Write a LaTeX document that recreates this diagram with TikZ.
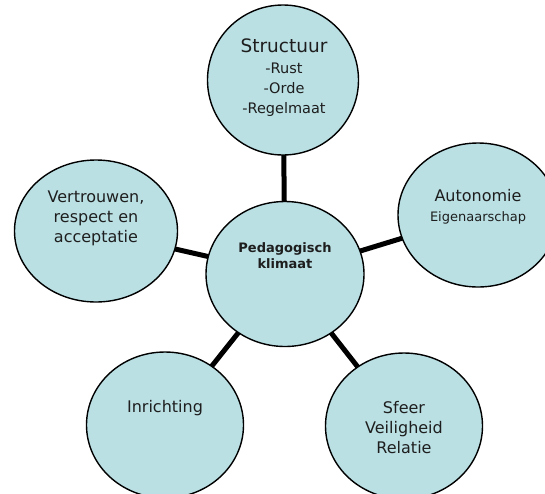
\documentclass[tikz,border=0pt]{standalone}
\usepackage{fontspec}
\setmainfont{DejaVu Sans}
\usetikzlibrary{shapes.geometric,backgrounds}
\definecolor{bubble}{RGB}{186,224,228}
\definecolor{ink}{RGB}{30,30,30}
\tikzset{
  bubble/.style={ellipse,draw=black,line width=1.4pt,fill=bubble,inner sep=0pt},
  txt/.style={align=center,text=ink,inner sep=0pt,font=\fontsize{16}{20}\selectfont},
  link/.style={line width=5pt,black}
}
\begin{document}
\begin{tikzpicture}[x=1pt,y=-1pt]
\useasboundingbox (0,0) rectangle (545,493);
\node[bubble,minimum width=151pt,minimum height=150pt] (top) at (283,80) {};
\node[bubble,minimum width=158pt,minimum height=145pt] (mid) at (285,274) {};
\node[bubble,minimum width=160pt,minimum height=144pt] (right) at (478,215) {};
\node[bubble,minimum width=163pt,minimum height=142pt] (left) at (96,231) {};
\node[bubble,minimum width=157pt,minimum height=146pt] (bl) at (165,425) {};
\node[bubble,minimum width=157pt,minimum height=146pt] (br) at (404,426) {};
\begin{pgfonlayer}{background}
\draw[link] (mid.center) -- (top.center);
\draw[link] (mid.center) -- (right.center);
\draw[link] (mid.center) -- (left.center);
\draw[link] (mid.center) -- (bl.center);
\draw[link] (mid.center) -- (br.center);
\end{pgfonlayer}
\node[txt] (ttop) at (284,78) {{\fontsize{18.5}{19}\selectfont Structuur}\\[1pt]{\fontsize{14.5}{19}\selectfont -Rust}\\{\fontsize{14.5}{19}\selectfont -Orde}\\{\fontsize{14.5}{19}\selectfont -Regelmaat}};
\node[txt,font=\bfseries\fontsize{13}{16}\selectfont] (tmid) at (285,256) {Pedagogisch\\klimaat};
\node[txt] (tright) at (478,207) {Autonomie\\{\fontsize{13}{18}\selectfont Eigenaarschap}};
\node[txt] (tleft) at (96,218) {Vertrouwen,\\respect en\\acceptatie};
\node[txt] (tbl) at (165,408) {Inrichting};
\node[txt] (tbr) at (404,428) {Sfeer\\Veiligheid\\Relatie};
\end{tikzpicture}
\end{document}
